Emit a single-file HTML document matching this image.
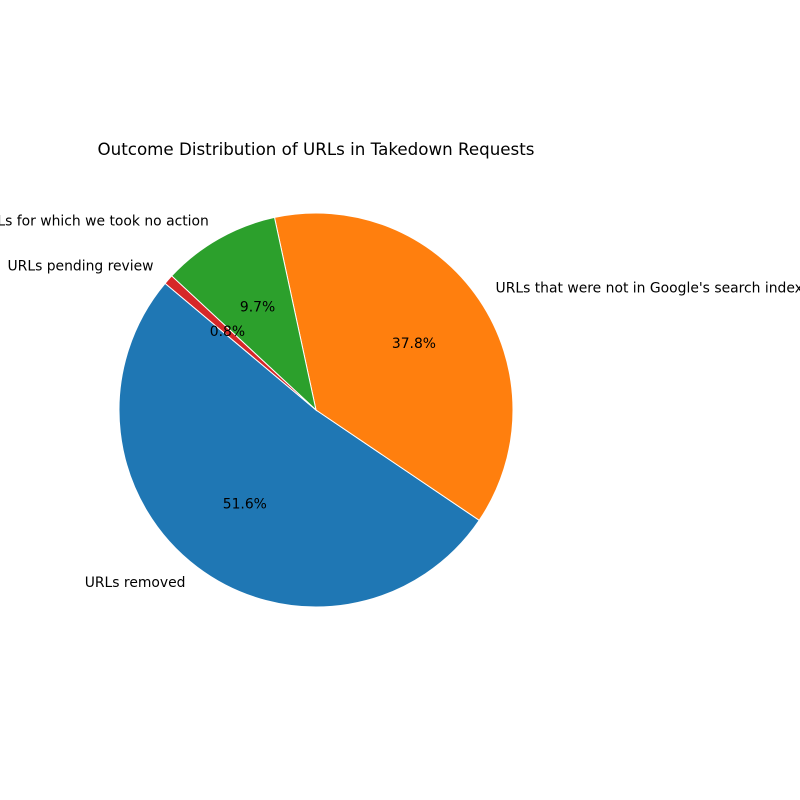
<!DOCTYPE html>
<html><head><meta charset="utf-8"><style>
html,body{margin:0;padding:0;background:#fff;width:800px;height:800px;overflow:hidden}
svg text{font-family:"DejaVu Sans","Liberation Sans",sans-serif}
</style></head><body>
<svg id="chart" width="800" height="800" viewBox="0 0 800 800">
<text x="316" y="155" text-anchor="middle" font-size="16.7" fill="#000">Outcome Distribution of URLs in Takedown Requests</text>
<g id="slices"></g><g id="labels"></g>
</svg>
<script>
const categories = ["URLs removed","URLs that were not in Google's search index","URLs for which we took no action","URLs pending review"];
const values = [51.6, 37.8, 9.7, 0.8];
const colors = ["#1f77b4","#ff7f0e","#2ca02c","#d62728"];
const cx=316, cy=410, r=197, startAngle=140;
const NS="http://www.w3.org/2000/svg";
const total=values.reduce((a,b)=>a+b,0);
const slices=document.getElementById('slices'), labels=document.getElementById('labels');
function pt(deg,rad){const a=deg*Math.PI/180;return [cx+rad*Math.cos(a), cy-rad*Math.sin(a)];}
let ang=startAngle;
values.forEach((v,i)=>{
  const sweep=v/total*360, a0=ang, a1=ang+sweep;
  const p0=pt(a0,r), p1=pt(a1,r);
  const large=sweep>180?1:0;
  const path=document.createElementNS(NS,'path');
  path.setAttribute('d',`M${cx},${cy} L${p0[0]},${p0[1]} A${r},${r} 0 ${large} 0 ${p1[0]},${p1[1]} Z`);
  path.setAttribute('fill',colors[i]);path.setAttribute('stroke','#fff');path.setAttribute('stroke-width','1');
  
  
  slices.appendChild(path);
  const mid=(a0+a1)/2, rad=mid*Math.PI/180;
  const lp=pt(mid,1.1*r);
  const t=document.createElementNS(NS,'text');
  t.setAttribute('x',lp[0]);t.setAttribute('y',lp[1]+4);t.setAttribute('font-size','13.9');
  t.setAttribute('text-anchor',Math.cos(rad)>=0?'start':'end');
  t.textContent=categories[i];
  
  
  labels.appendChild(t);
  const pp=pt(mid,0.6*r);
  const tp=document.createElementNS(NS,'text');
  tp.setAttribute('x',pp[0]);tp.setAttribute('y',pp[1]+4);tp.setAttribute('font-size','13.9');
  tp.setAttribute('text-anchor','middle');
  tp.textContent=v.toFixed(1)+'%';
  
  
  labels.appendChild(tp);
  ang=a1;
});
</script>
</body></html>
